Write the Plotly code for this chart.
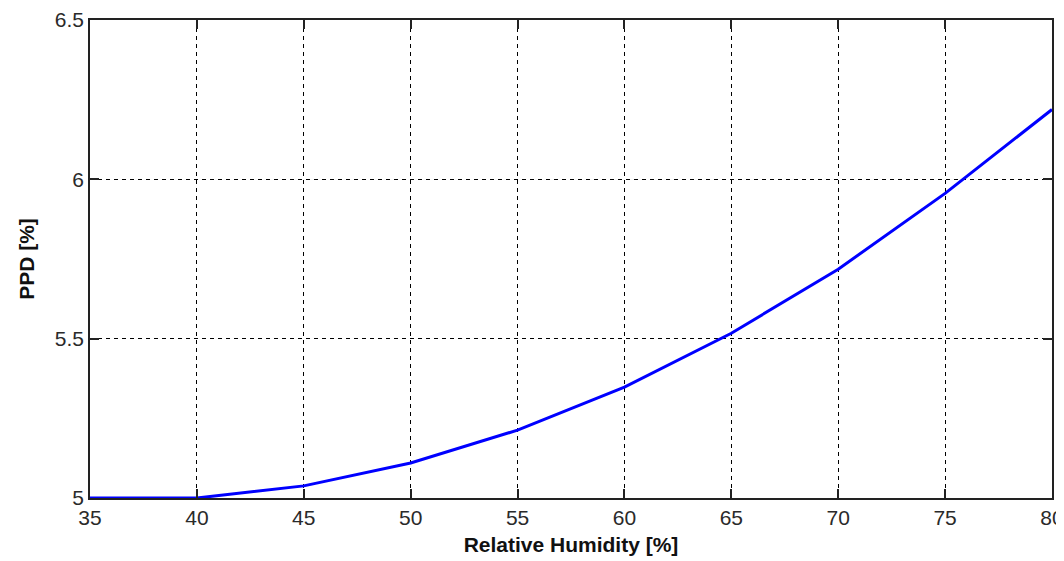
import plotly.graph_objects as go

humidity = [35, 40, 45, 50, 55, 60, 65, 70, 75, 80]
ppd = [5.0, 5.0, 5.038, 5.11, 5.213, 5.348, 5.517, 5.718, 5.956, 6.219]

x_ticks = [35, 40, 45, 50, 55, 60, 65, 70, 75, 80]
y_ticks = [5, 5.5, 6, 6.5]
y_labels = ["5", "5.5", "6", "6.5"]

FONT = "Liberation Sans, Arial, sans-serif"

fig = go.Figure()
fig.add_trace(go.Scatter(x=humidity, y=ppd, mode="lines",
                         line=dict(color="#0000ff", width=3), showlegend=False))

axis_common = dict(
    showline=True, linecolor="#222", linewidth=1.5, mirror="ticks",
    ticks="inside", ticklen=9, tickcolor="#222", tickwidth=1.5,
    showgrid=True, gridcolor="#000", gridwidth=1, griddash="4px,4px",
    zeroline=False, automargin=False,
    tickfont=dict(family=FONT, size=21, color="#2a2a2a"),
)

fig.update_layout(
    width=1064, height=561,
    margin=dict(l=82, r=20, t=12, b=71),
    paper_bgcolor="white", plot_bgcolor="white",
    xaxis=dict(range=[35, 80], tickvals=x_ticks,
               title=dict(text="<b>Relative Humidity [%]</b>", standoff=9,
                          font=dict(family=FONT, size=21, color="#111")),
               **axis_common),
    yaxis=dict(range=[5, 6.5], tickvals=y_ticks, ticktext=y_labels,
               title=dict(text="<b>PPD [%]</b>", standoff=14,
                          font=dict(family=FONT, size=21, color="#111")),
               **axis_common),
)

fig.write_html("out.html")
